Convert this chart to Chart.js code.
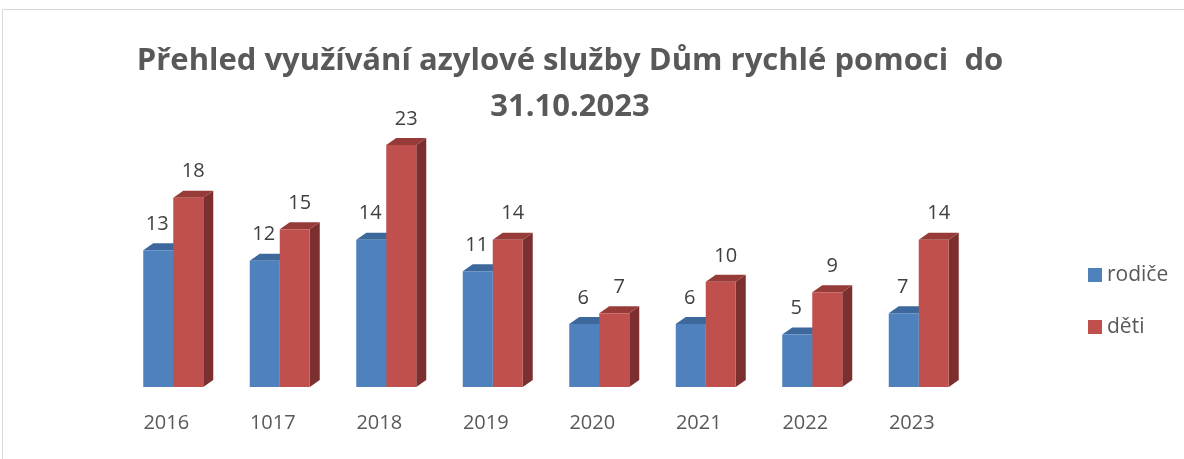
<!DOCTYPE html>
<html>
<head>
<meta charset="utf-8">
<script src="https://cdn.jsdelivr.net/npm/chart.js@4/dist/chart.umd.min.js"></script>
<style>
html,body{margin:0;padding:0;background:#fff;}
#wrap{width:1184px;height:459px;position:relative;}
</style>
</head>
<body>
<div id="wrap"><canvas id="c" width="1184" height="459"></canvas></div>
<script>
const categories = ['2016','1017','2018','2019','2020','2021','2022','2023'];
const rodice = [13,12,14,11,6,6,5,7];
const deti = [18,15,23,14,7,10,9,14];
const seriesNames = ['rodiče','děti'];
const titleLines = ['Přehled využívání azylové služby Dům rychlé pomoci  do','31.10.2023'];

const FRONT = ['#4F81BD','#C0504D'];
const TOP = ['#3C689C','#963B38'];
const SIDE = ['#2F5381','#7B2F2E'];
const LABEL_DX = [-1, 5];
const DX = 10, DY = 7;
const FONT = '"Open Sans", "Liberation Sans", sans-serif';

const frame = {
  id:'frame',
  beforeDraw(chart){
    const ctx = chart.ctx;
    ctx.save();
    ctx.fillStyle='#fff';
    ctx.fillRect(0,0,chart.width,chart.height);
    ctx.strokeStyle='#d9d9d9';
    ctx.lineWidth=1;
    ctx.strokeRect(2.5,9.5,chart.width+10,chart.height+10);
    ctx.restore();
  }
};

const bars3d = {
  id:'bars3d',
  beforeDatasetsDraw(chart){
    const ctx = chart.ctx;
    ctx.save();
    chart.data.datasets.forEach((ds,di)=>{
      const meta = chart.getDatasetMeta(di);
      meta.data.forEach(el=>{
        const l = el.x - el.width/2, r = el.x + el.width/2, y = el.y, b = el.base;
        ctx.fillStyle = SIDE[di];
        ctx.beginPath();
        ctx.moveTo(r,y); ctx.lineTo(r+DX,y-DY); ctx.lineTo(r+DX,b-DY); ctx.lineTo(r,b); ctx.closePath();
        ctx.fill();
        ctx.fillStyle = TOP[di];
        ctx.beginPath();
        ctx.moveTo(l,y); ctx.lineTo(l+DX,y-DY); ctx.lineTo(r+DX,y-DY); ctx.lineTo(r,y); ctx.closePath();
        ctx.fill();
      });
    });
    ctx.restore();
  },
  afterDatasetsDraw(chart){
    const ctx = chart.ctx;
    ctx.save();
    ctx.font = '20px ' + FONT;
    ctx.fillStyle = '#404040';
    ctx.textAlign = 'center';
    ctx.textBaseline = 'middle';
    chart.data.datasets.forEach((ds,di)=>{
      const meta = chart.getDatasetMeta(di);
      meta.data.forEach((el,i)=>{
        ctx.fillText(String(ds.data[i]), el.x + LABEL_DX[di], el.y - 26);
      });
    });
    ctx.restore();
  },
  afterDraw(chart){
    const ctx = chart.ctx;
    ctx.save();
    // title
    ctx.fillStyle = '#595959';
    ctx.font = 'bold 31px ' + FONT;
    ctx.textAlign = 'center';
    ctx.textBaseline = 'alphabetic';
    ctx.fillText(titleLines[0], 570, 70);
    ctx.fillText(titleLines[1], 570, 116);
    // legend
    ctx.font = '21px ' + FONT;
    ctx.textAlign = 'left';
    ctx.textBaseline = 'middle';
    chart.data.datasets.forEach((ds,di)=>{
      const yc = 275 + di*52;
      ctx.fillStyle = FRONT[di];
      ctx.fillRect(1088, yc-7, 14, 14);
      ctx.fillStyle = '#595959';
      ctx.fillText(ds.label, 1107, yc);
    });
    ctx.restore();
  }
};

new Chart(document.getElementById('c'), {
  type:'bar',
  data:{
    labels: categories,
    datasets:[
      {label: seriesNames[0], data: rodice, backgroundColor: FRONT[0]},
      {label: seriesNames[1], data: deti, backgroundColor: FRONT[1]}
    ]
  },
  options:{
    responsive:false,
    animation:false,
    events:[],
    layout:{padding:{left:120, right:212, top:124, bottom:22}},
    categoryPercentage: 0.5634,
    barPercentage: 1.0,
    plugins:{legend:{display:false}, title:{display:false}, tooltip:{enabled:false}},
    scales:{
      x:{
        grid:{display:false, drawTicks:false},
        border:{display:false},
        ticks:{color:'#595959', font:{family:FONT, size:20}, padding:24, labelOffset:-7},
        afterFit(scale){ scale.height = 50; }
      },
      y:{display:false, min:0, max:25}
    }
  },
  plugins:[frame, bars3d]
});
</script>
</body>
</html>
